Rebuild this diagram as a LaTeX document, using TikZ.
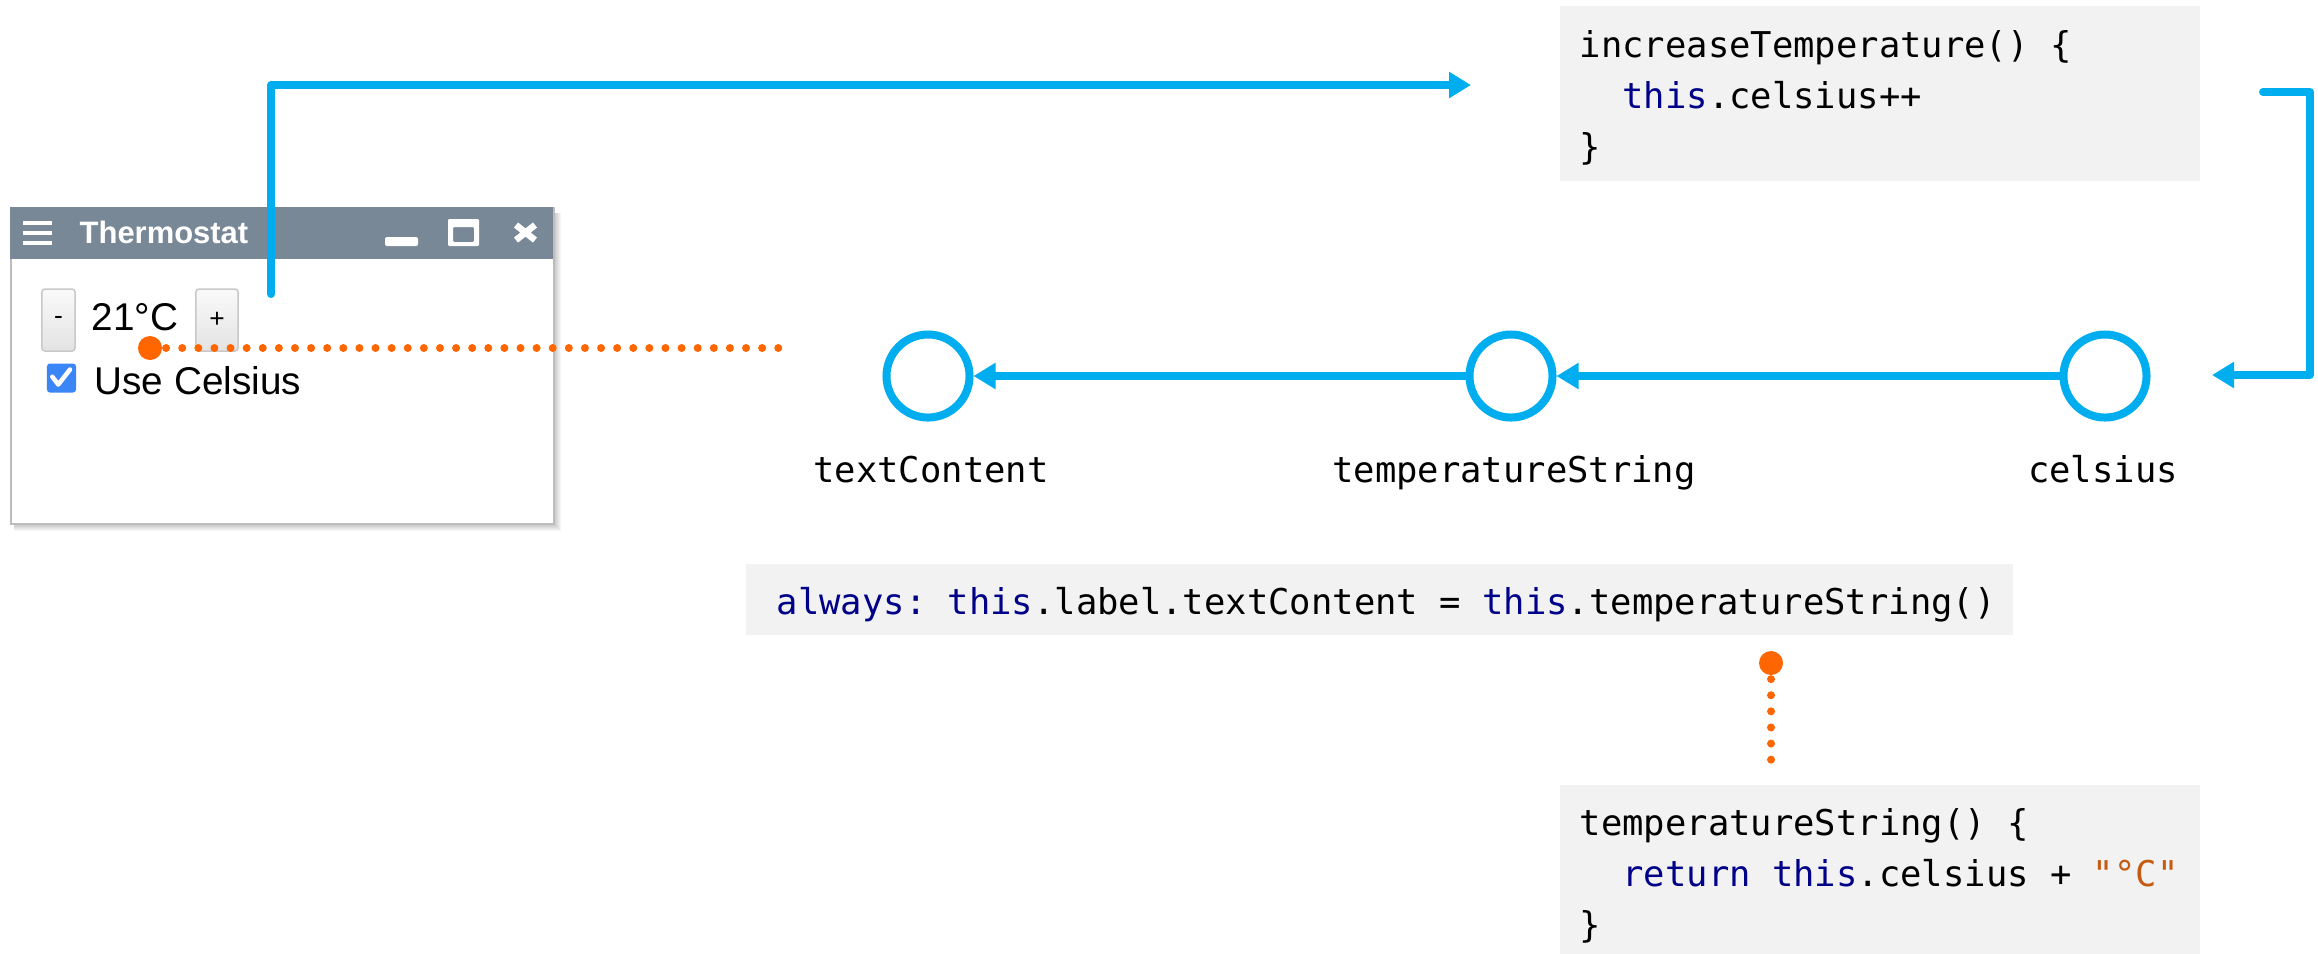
\documentclass[tikz,border=0pt]{standalone}
\usepackage{fontspec}
\setmonofont{DejaVu Sans Mono}
\newfontfamily\uifont{Liberation Sans}
\usetikzlibrary{arrows.meta}

\definecolor{flow}{HTML}{00AEEF}
\definecolor{dep}{HTML}{FF6600}
\definecolor{codebg}{HTML}{F2F2F2}
\definecolor{kw}{HTML}{000088}
\definecolor{strcol}{HTML}{C55A11}
\definecolor{titlebar}{HTML}{798897}
\definecolor{winframe}{HTML}{BDBDBD}
\definecolor{checkblue}{HTML}{3B86F7}
\definecolor{btnborder}{HTML}{C8C8C8}

\begin{document}
\begin{tikzpicture}[x=0.01cm, y=-0.01cm,
  codebox/.style={fill=codebg, draw=none, inner sep=0, anchor=north west},
  codeline/.style={font=\ttfamily\fontsize{10.1}{12}\selectfont, anchor=base west, inner sep=0},
  varname/.style={font=\ttfamily\fontsize{10.1}{12}\selectfont, anchor=base, inner sep=0},
  cell/.style={circle, draw=flow, line width=0.08cm, minimum size=0.83cm, inner sep=0},
  flowline/.style={draw=flow, line width=0.08cm, line cap=round, line join=round},
  flowarrow/.style={flowline, -{Triangle[length=0.22cm, width=0.25cm]}},
  depdot/.style={circle, fill=dep, minimum size=0.24cm, inner sep=0},
  depline/.style={draw=dep, line width=0.08cm, line cap=round, dash pattern=on 0pt off 0.161cm},
  uitext/.style={font=\uifont\fontsize{11}{13}\selectfont, inner sep=0, anchor=base west},
  btn/.style={draw=btnborder, line width=0.015cm, top color=white!98!black, bottom color=white!89!black,
    rounded corners=0.03cm, inner sep=0, minimum height=0.62cm, font=\uifont\fontsize{7.5}{9}\selectfont}
]
\useasboundingbox (0,0) rectangle (2318,953);

% ---- thermostat window ----
\foreach \i in {1,...,8}
  \fill[black, opacity=0.035] (14,213) rectangle (553+\i,523+\i);
\node (win) [draw=winframe, fill=white, line width=0.02cm, minimum width=5.43cm, minimum height=3.16cm,
  anchor=north west, inner sep=0] at (10,207) {};
\fill[titlebar] (10,207) rectangle (553,259);
\node[font=\uifont\bfseries\fontsize{8.8}{10}\selectfont, text=white, anchor=base west, inner sep=0] (title)
  at (79,243) {Thermostat};
% title bar icons
\foreach \yy in {223,233,243}
  \fill[white] (23,\yy-2.2) rectangle (52,\yy+2.2);
\fill[white, rounded corners=0.02cm] (385,237) rectangle (418,246);
\fill[white, even odd rule, rounded corners=0.012cm] (448,219) rectangle (479,246) (453,227) rectangle (474,242);
\draw[white, line width=0.065cm] (516,225) -- (535,240) (535,225) -- (516,240);
% controls
\node (minus) [btn, minimum width=0.33cm] at (58.5,320) {-};
\node (plus) [btn, minimum width=0.42cm] at (217,320) {+};
\node[uitext] (reading) at (91,330) {21°C};
\node (chk) [fill=checkblue, rounded corners=0.03cm, minimum size=0.29cm, inner sep=0] at (61.5,378) {};
\draw[white, line width=0.045cm, line cap=round, line join=round] (52.3,376.7) -- (58.3,384.5) -- (70,369.5);
\node[uitext] (usec) at (94,394) {Use Celsius};

% ---- code boxes ----
\node[codebox, minimum width=6.40cm, minimum height=1.75cm] (incbox) at (1559,5) {};
\node[codeline] (inc1) at (1579,57) {increaseTemperature() \{};
\node[codeline] (inc2) at (1579,108) {\phantom{xx}\textcolor{kw}{this}.celsius++};
\node[codeline] (inc3) at (1579,159) {\}};

\node[codebox, minimum width=12.67cm, minimum height=0.71cm] (alwbox) at (745,563) {};
\node[codeline] (alw) at (776,614) {\textcolor{kw}{always:} \textcolor{kw}{this}.label.textContent = \textcolor{kw}{this}.temperatureString()};

\node[codebox, minimum width=6.40cm, minimum height=1.75cm] (tsbox) at (1559,784) {};
\node[codeline] (ts1) at (1579,835) {temperatureString() \{};
\node[codeline] (ts2) at (1579,886) {\phantom{xx}\textcolor{kw}{return} \textcolor{kw}{this}.celsius + \textcolor{strcol}{"°C"}};
\node[codeline] (ts3) at (1579,937) {\}};

% ---- dependency cells ----
\node[cell] (ctext) at (928,376) {};
\node[cell] (ctemp) at (1511,376) {};
\node[cell] (ccel) at (2105,376) {};
\node[varname] (ltext) at (931,482) {textContent};
\node[varname] (ltemp) at (1514,482) {temperatureString};
\node[varname] (lcel) at (2103,482) {celsius};

\draw[flowarrow] (ccel) -- (ctemp);
\draw[flowarrow] (ctemp) -- (ctext);

% ---- event flow ----
\coordinate (press) at (271,294);
\coordinate (incin) at (1471,85);
\draw[flowarrow] (press) |- (incin);

\coordinate (incout) at (2263,92);
\coordinate (bend) at (2310,92);
\coordinate (celin) at (2212,375);
\draw[flowarrow] (incout) -- (bend) |- (celin);

% ---- bindings ----
\coordinate (srcA) at (150,348);
\coordinate (depA) at (794,348);
\draw[depline] (srcA) -- (depA);
\node[depdot] (dotA) at (srcA) {};

\coordinate (srcB) at (1771,663);
\coordinate (depB) at (1771,760);
\draw[depline] (srcB) -- (depB);
\node[depdot] (dotB) at (srcB) {};
\end{tikzpicture}
\end{document}
